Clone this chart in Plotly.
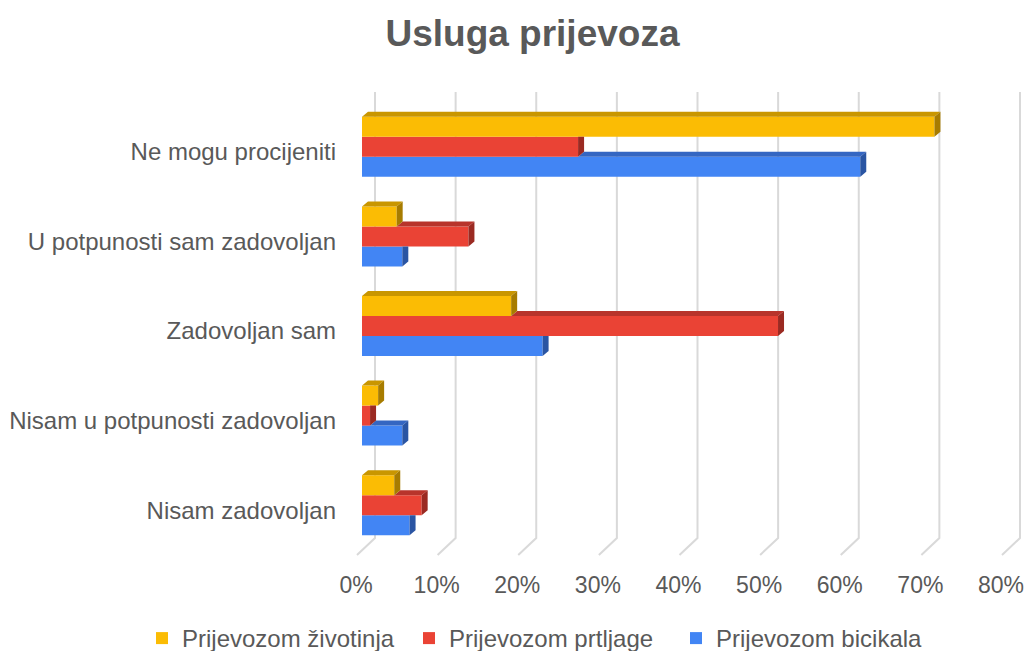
import plotly.graph_objects as go

# ---- data ----
categories = ["Nisam zadovoljan", "Nisam u potpunosti zadovoljan", "Zadovoljan sam",
              "U potpunosti sam zadovoljan", "Ne mogu procijeniti"]
zivotinja = [0.040, 0.020, 0.185, 0.043, 0.710]
prtljaga = [0.074, 0.010, 0.516, 0.132, 0.268]
bicikli = [0.059, 0.050, 0.224, 0.050, 0.618]
tick_vals = [0.0, 0.1, 0.2, 0.3, 0.4, 0.5, 0.6, 0.7, 0.8]

# ---- layout constants ----
W, H = 1024, 651
ML, MR, MT, MB = 362, 17, 102, 101
PW, PH = W - ML - MR, H - MT - MB
XMAX = 0.8
KX = XMAX / PW            # data units per pixel (x)
KY = 1.0 / PH             # paper units per pixel (y)
BARGAP = 0.33
DEPTH_X, DEPTH_Y = 6, 5   # 3-D depth in pixels
TEXT = "#595959"
FONT = "Liberation Sans, Arial, sans-serif"

series = [  # bottom -> top inside each group
    ("Prijevozom bicikala", bicikli, "#4285F4", "#3466C2", "#2A55A3"),
    ("Prijevozom prtljage", prtljaga, "#EA4335", "#B8342B", "#9B2A22"),
    ("Prijevozom životinja", zivotinja, "#FBBC04", "#C99600", "#A77C00"),
]

fig = go.Figure()
for name, vals, col, _, _ in series:
    fig.add_trace(go.Bar(y=categories, x=vals, orientation="h", name=name,
                         marker=dict(color=col, line=dict(width=0))))

shapes = []
# gridlines: back wall vertical + slanted floor segment (paper refs so they are not clipped)
for t in tick_vals:
    xb = t / XMAX + 13 / PW
    xf = t / XMAX - 5 / PW
    path = (f"M {xb},{(PH + MT - 92) * KY} L {xb},{12 * KY} L {xf},{-5 * KY}")
    shapes.append(dict(type="path", xref="paper", yref="paper", path=path,
                       line=dict(color="#D9D9D9", width=2), layer="below"))

# 3-D faces
n = len(series)
w = 1 - BARGAP
h = w / n
dx = DEPTH_X * KX
dy = DEPTH_Y * KY
def py(v):
    return (v + 0.5) / len(categories)

for k, (name, vals, col, topc, sidec) in enumerate(series):
    for i, v in enumerate(vals):
        yb = py(i - w / 2 + k * h)
        yt = py(i - w / 2 + (k + 1) * h)
        u = series[k + 1][1][i] if k + 1 < n else 0.0
        # top face (visible part not hidden by the bar above)
        if v > u:
            p = (f"M {u},{yt} L {v},{yt} L {v + dx},{yt + dy} L {u + dx if u > 0 else dx},{yt + dy} Z")
            shapes.append(dict(type="path", xref="x", yref="paper", path=p,
                               fillcolor=topc, line=dict(width=0), layer="above"))
        # side face (top part hidden when the bar above is longer)
        ytop = yt if u >= v + dx else yt + dy
        p = f"M {v},{yb} L {v + dx},{yb + dy} L {v + dx},{ytop} L {v},{yt} Z"
        shapes.append(dict(type="path", xref="x", yref="paper", path=p,
                           fillcolor=sidec, line=dict(width=0), layer="above"))

fig.update_layout(
    width=W, height=H,
    margin=dict(l=ML, r=MR, t=MT, b=MB, pad=0, autoexpand=False),
    paper_bgcolor="white", plot_bgcolor="white",
    barmode="group", bargap=BARGAP, bargroupgap=0,
    font=dict(family=FONT, color=TEXT, size=23),
    title=dict(text="<b>Usluga prijevoza</b>", x=0.52, xref="container", xanchor="center",
               y=1 - 33 / H, yref="container", yanchor="middle",
               font=dict(size=37, color=TEXT, family=FONT)),
    xaxis=dict(range=[0, XMAX], tickvals=tick_vals, tickformat=".0%",
               showgrid=False, zeroline=False, showline=False, automargin=False,
               tickfont=dict(size=23, color=TEXT), ticklabelstandoff=19,
               ticklabelshift=-6, ticklabeloverflow="allow", fixedrange=True),
    yaxis=dict(categoryorder="array", categoryarray=categories,
               showgrid=False, zeroline=False, showline=False, automargin=False,
               tickfont=dict(size=24, color=TEXT), ticklabelstandoff=25,
               ticklabelshift=5, fixedrange=True),
    legend=dict(orientation="h", traceorder="reversed", xref="paper", yref="paper",
                x=(142 - ML) / PW, xanchor="left", y=(PH + MT - 616) * KY, yanchor="top",
                font=dict(size=24, color=TEXT), itemwidth=30,
                entrywidth=222, entrywidthmode="pixels", bgcolor="rgba(0,0,0,0)"),
    shapes=shapes,
    showlegend=True,
)

fig.write_html("out.html", config={"displayModeBar": False},
               post_script="document.body.style.margin='0';document.body.style.overflow='hidden';")
